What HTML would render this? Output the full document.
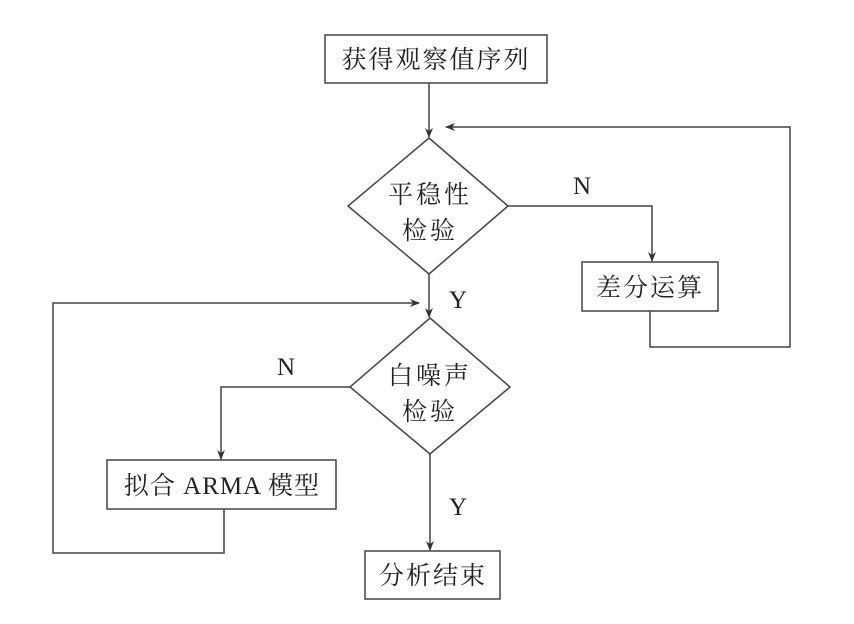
<!DOCTYPE html>
<html><head><meta charset="utf-8"><style>
body{margin:0;background:#fff;}
svg text{font-family:"Liberation Serif","Noto Serif CJK SC",serif;fill:#222;}
</style></head><body>
<svg width="854" height="619" viewBox="0 0 854 619" xmlns="http://www.w3.org/2000/svg">
<defs><marker id="a" markerWidth="10" markerHeight="10" refX="9" refY="5" orient="auto" markerUnits="userSpaceOnUse"><path d="M0,1 L10,5 L0,9 L3,5 Z" fill="#333"/></marker></defs>
<g stroke="#444" stroke-width="1.5" fill="none">
<rect x="325" y="35" width="222" height="48" fill="#fff"/>
<line x1="429" y1="83" x2="429" y2="137" marker-end="url(#a)"/>
<polyline points="790,127 790,127" />
<polyline points="650,311 650,347 790,347 790,127 446,127" marker-end="url(#a)"/>
<polygon points="429,138 508,206 429,274 348,206" fill="#fff"/>
<polyline points="508,206 652,206 652,261" marker-end="url(#a)"/>
<rect x="582" y="262" width="136" height="49" fill="#fff"/>
<line x1="429" y1="274" x2="429" y2="317" marker-end="url(#a)"/>
<polyline points="224,509 224,553 53,553 53,303 419,303" marker-end="url(#a)"/>
<polygon points="430,318 510,387 430,454 350,387" fill="#fff"/>
<polyline points="350,387 221,387 221,459" marker-end="url(#a)"/>
<rect x="107" y="460" width="229" height="49" fill="#fff"/>
<line x1="430" y1="454" x2="430" y2="550" marker-end="url(#a)"/>
<rect x="365" y="551" width="135" height="48" fill="#fff"/>
</g>
<g font-size="25" text-anchor="middle">
<text x="436" y="68" letter-spacing="2">获得观察值序列</text>
<text x="430" y="203" letter-spacing="3">平稳性</text>
<text x="430" y="239" letter-spacing="3">检验</text>
<text x="650" y="296" letter-spacing="2">差分运算</text>
<text x="430" y="384" letter-spacing="3">白噪声</text>
<text x="430" y="420" letter-spacing="3">检验</text>
<text x="222" y="494" letter-spacing="1">拟合 ARMA 模型</text>
<text x="433" y="584" letter-spacing="2">分析结束</text>
<text x="582" y="194">N</text>
<text x="458" y="308">Y</text>
<text x="286" y="375">N</text>
<text x="458" y="515">Y</text>
</g>
</svg>
</body></html>
